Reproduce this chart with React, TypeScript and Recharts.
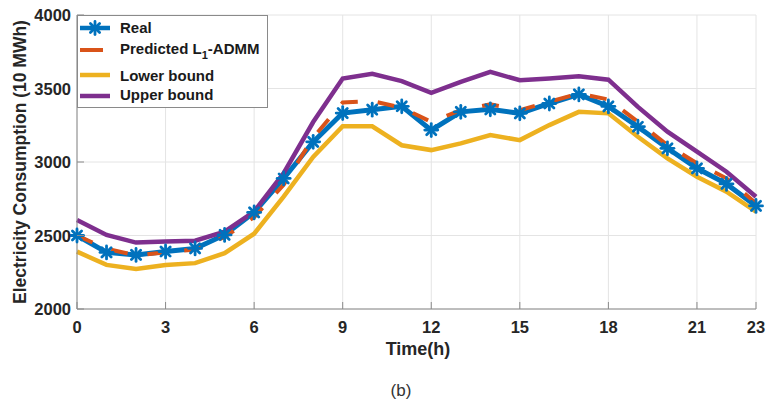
import React from 'react';
import { LineChart, Line, XAxis, YAxis, CartesianGrid, Legend, Label } from 'recharts';

const hours = [0, 1, 2, 3, 4, 5, 6, 7, 8, 9, 10, 11, 12, 13, 14, 15, 16, 17, 18, 19, 20, 21, 22, 23];
const realValues = [2500, 2385, 2368, 2391, 2412, 2504, 2657, 2888, 3137, 3333, 3356, 3379, 3217, 3341, 3358, 3331, 3398, 3460, 3378, 3240, 3093, 2957, 2851, 2701];
const predictedValues = [2500, 2410, 2365, 2385, 2405, 2490, 2625, 2845, 3165, 3405, 3415, 3370, 3273, 3353, 3392, 3353, 3409, 3466, 3425, 3273, 3115, 2991, 2889, 2720];
const lowerBound = [2390, 2300, 2272, 2300, 2312, 2380, 2512, 2764, 3035, 3243, 3243, 3114, 3081, 3127, 3183, 3149, 3251, 3341, 3331, 3172, 3025, 2900, 2798, 2663];
const upperBound = [2606, 2504, 2452, 2459, 2465, 2526, 2663, 2924, 3272, 3568, 3600, 3550, 3470, 3545, 3613, 3556, 3568, 3584, 3560, 3375, 3206, 3070, 2934, 2764];
const xTicks = [0, 3, 6, 9, 12, 15, 18, 21, 23];
const yTicks = [2000, 2500, 3000, 3500, 4000];

const data = hours.map((h, i) => ({
  hour: h,
  real: realValues[i],
  predicted: predictedValues[i],
  lower: lowerBound[i],
  upper: upperBound[i],
}));

const FONT = "'Liberation Sans', Arial, Helvetica, sans-serif";
const AXIS = '#8a8a8a';
const TEXT = '#262626';
const GRID = '#e4e4e4';
const TICK_LEN = 7;
const BLUE = '#0072BD';
const ORANGE = '#D95319';
const YELLOW = '#EDB120';
const PURPLE = '#7E2F8E';

const BottomTick = (props: any) => {
  const { x, y, payload } = props;
  const axisY = y - 12;
  return (
    <g>
      <line x1={x} x2={x} y1={axisY} y2={axisY - TICK_LEN} stroke={AXIS} strokeWidth={1} />
      <text x={x} y={y} dy="0.71em" textAnchor="middle" fill={TEXT} fontFamily={FONT} fontWeight="bold" fontSize={16.5}>
        {payload.value}
      </text>
    </g>
  );
};

const TopTick = (props: any) => {
  const { x, y } = props;
  return <line x1={x} x2={x} y1={y} y2={y + TICK_LEN} stroke={AXIS} strokeWidth={1} />;
};

const LeftTick = (props: any) => {
  const { x, y, payload } = props;
  const axisX = x + 6;
  return (
    <g>
      <line x1={axisX} x2={axisX + TICK_LEN} y1={y} y2={y} stroke={AXIS} strokeWidth={1} />
      <text x={x} y={y} textAnchor="end" dominantBaseline="central" fill={TEXT} fontFamily={FONT} fontWeight="bold" fontSize={16.5}>
        {payload.value}
      </text>
    </g>
  );
};

const RightTick = (props: any) => {
  const { x, y } = props;
  return <line x1={x} x2={x - TICK_LEN} y1={y} y2={y} stroke={AXIS} strokeWidth={1} />;
};

const Star = ({ cx, cy, r, color, sw }: any) => {
  const d = r * 0.7071;
  return (
    <g stroke={color} strokeWidth={sw} strokeLinecap="round">
      <line x1={cx - r} x2={cx + r} y1={cy} y2={cy} />
      <line x1={cx} x2={cx} y1={cy - r} y2={cy + r} />
      <line x1={cx - d} x2={cx + d} y1={cy - d} y2={cy + d} />
      <line x1={cx - d} x2={cx + d} y1={cy + d} y2={cy - d} />
    </g>
  );
};

const renderStarDot = (props: any) => {
  const { cx, cy, index } = props;
  if (cx == null || cy == null) return <g key={`s-${index}`} />;
  return (
    <g key={`s-${index}`}>
      <Star cx={cx} cy={cy} r={6.5} color={BLUE} sw={2.8} />
    </g>
  );
};

const YLabel = (props: any) => {
  const vb = props.viewBox || { x: 17, y: 15, width: 60, height: 294 };
  const cx = vb.x + 3;
  const cy = vb.y + vb.height / 2;
  return (
    <text
      x={cx}
      y={cy}
      transform={`rotate(-90 ${cx} ${cy})`}
      textAnchor="middle"
      dominantBaseline="central"
      fill={TEXT}
      fontFamily={FONT}
      fontWeight="bold"
      fontSize={17.5}
    >
      Electricity Consumption (10 MWh)
    </text>
  );
};

const XLabel = (props: any) => {
  const vb = props.viewBox || { x: 77, y: 309, width: 679, height: 30 };
  const cx = vb.x + vb.width / 2 + 1.5;
  return (
    <g>
      <text x={cx} y={vb.y + 45.7} textAnchor="middle" fill={TEXT} fontFamily={FONT} fontWeight="bold" fontSize={18}>
        Time(h)
      </text>
      <text x={cx - 17} y={vb.y + 87} textAnchor="middle" fill="#333" fontFamily={FONT} fontSize={17}>
        (b)
      </text>
    </g>
  );
};

const legendItems = [
  { name: 'Real', color: BLUE, lineY: 13, textY: 18, star: true },
  { name: 'Predicted', color: ORANGE, lineY: 35, textY: 39, sub: true },
  { name: 'Lower bound', color: YELLOW, lineY: 60, textY: 66 },
  { name: 'Upper bound', color: PURPLE, lineY: 81, textY: 85 },
];

const renderLegend = () => (
  <svg width={191} height={93} style={{ display: 'block' }}>
    <rect x={0.5} y={0.5} width={190} height={92} fill="#fff" stroke={AXIS} strokeWidth={1} />
    {legendItems.map((it) => (
      <g key={it.name}>
        <line x1={3} x2={it.sub ? 26 : 33} y1={it.lineY} y2={it.lineY} stroke={it.color} strokeWidth={it.sub ? 4 : 4.5} />
        {it.star ? <Star cx={18} cy={it.lineY} r={6.5} color={BLUE} sw={2.8} /> : null}
        <text x={43} y={it.textY} fill="#1a1a1a" fontFamily={FONT} fontWeight="bold" fontSize={15}>
          {it.sub ? (
            <>
              <tspan>Predicted L</tspan>
              <tspan dy={5} fontSize={11}>1</tspan>
              <tspan dy={-5}>-ADMM</tspan>
            </>
          ) : (
            it.name
          )}
        </text>
      </g>
    ))}
  </svg>
);

export default function App() {
  return (
    <div style={{ position: 'absolute', left: 0, top: 0, width: 776, height: 403, background: '#fff' }}>
      <LineChart width={776} height={403} data={data} margin={{ top: 15, right: 20, bottom: 64, left: 17 }}>
        <CartesianGrid stroke={GRID} strokeWidth={1} />
        <XAxis
          dataKey="hour"
          type="number"
          domain={[0, 23]}
          ticks={xTicks}
          interval={0}
          height={30}
          tickSize={0}
          tickMargin={12}
          tick={<BottomTick />}
          axisLine={{ stroke: AXIS, strokeWidth: 1 }}
          tickLine={false}
          allowDecimals={false}
        >
          <Label content={<XLabel />} />
        </XAxis>
        <XAxis
          xAxisId="top"
          orientation="top"
          dataKey="hour"
          type="number"
          domain={[0, 23]}
          ticks={xTicks}
          interval={0}
          height={0}
          tickSize={0}
          tickMargin={0}
          tick={<TopTick />}
          axisLine={{ stroke: AXIS, strokeWidth: 1 }}
          tickLine={false}
        />
        <YAxis
          type="number"
          domain={[2000, 4000]}
          ticks={yTicks}
          interval={0}
          width={60}
          tickSize={0}
          tickMargin={6}
          tick={<LeftTick />}
          axisLine={{ stroke: AXIS, strokeWidth: 1 }}
          tickLine={false}
        >
          <Label content={<YLabel />} />
        </YAxis>
        <YAxis
          yAxisId="right"
          orientation="right"
          type="number"
          domain={[2000, 4000]}
          ticks={yTicks}
          interval={0}
          width={0}
          tickSize={0}
          tickMargin={0}
          tick={<RightTick />}
          axisLine={{ stroke: AXIS, strokeWidth: 1 }}
          tickLine={false}
        />
        <Legend
          layout="vertical"
          align="center"
          verticalAlign="middle"
          content={renderLegend}
          wrapperStyle={{ left: 77, top: 15, width: 191, height: 93 }}
        />
        <Line type="linear" dataKey="real" stroke={BLUE} strokeWidth={5} dot={renderStarDot} activeDot={false} isAnimationActive={false} />
        <Line type="linear" dataKey="predicted" stroke={ORANGE} strokeWidth={4} strokeDasharray="17 20" dot={false} activeDot={false} isAnimationActive={false} />
        <Line type="linear" dataKey="lower" stroke={YELLOW} strokeWidth={4.5} dot={false} activeDot={false} isAnimationActive={false} />
        <Line type="linear" dataKey="upper" stroke={PURPLE} strokeWidth={4.5} dot={false} activeDot={false} isAnimationActive={false} />
      </LineChart>
    </div>
  );
}
